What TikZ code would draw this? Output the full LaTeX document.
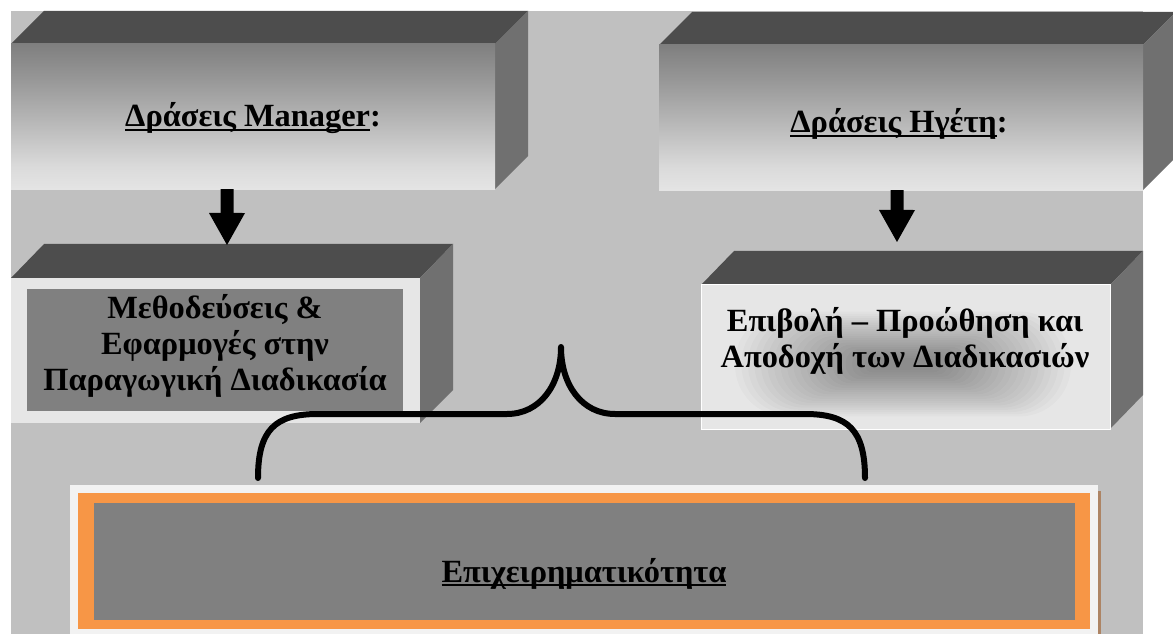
\documentclass[tikz,border=0pt]{standalone}
\usepackage{fontspec}
\setmainfont{Liberation Serif}
\usetikzlibrary{arrows.meta}
\definecolor{bgc}{HTML}{C0C0C0}
\definecolor{topc}{HTML}{4D4D4D}
\definecolor{sidec}{HTML}{707070}
\definecolor{facel}{HTML}{E6E6E6}
\definecolor{innerc}{HTML}{808080}
\definecolor{framec}{HTML}{F2F2F2}
\definecolor{orangec}{HTML}{F79646}
\definecolor{brownc}{HTML}{AD8464}
\definecolor{fbot}{HTML}{E4E4E4}
\definecolor{fb2}{HTML}{DADADA}
\definecolor{fmid}{HTML}{B8B8B8}
\definecolor{fb3}{HTML}{999999}
\definecolor{ftop}{HTML}{7F7F7F}
\pgfdeclareverticalshading{facegrad}{100bp}{color(0bp)=(fbot); color(25bp)=(fbot); color(33bp)=(fb2); color(48bp)=(fmid); color(62bp)=(fb3); color(75bp)=(ftop); color(100bp)=(ftop)}
\newsavebox\ulbox
\newcommand\ulx[1]{\sbox\ulbox{#1}\rlap{\rule[-4.5pt]{\wd\ulbox}{2.6pt}}\usebox\ulbox}
\tikzset{
  topface/.style={fill=topc},
  sideface/.style={fill=sidec},
  facebox/.style={inner sep=0pt, outer sep=0pt, anchor=north west},
  gradface/.style={facebox, shading=facegrad},
  lightface/.style={facebox, fill=facel},
  innerbox/.style={facebox, fill=innerc},
  label/.style={inner sep=0pt, text=black},
  bigarrow/.style={line width=13bp, -{Triangle[width=36bp,length=32bp,line width=0pt]}},
  bracepath/.style={line width=6bp, line cap=round, line join=round},
  blurlayer/.style={fill=black, fill opacity=0.02}
}
\begin{document}
\begin{tikzpicture}[x=1bp, y=-1bp, font=\fontsize{32.5}{36.5}\selectfont\bfseries]
\useasboundingbox (0,0) rectangle (1173,634);
\fill[white] (0,0) rectangle (1173,634);
\fill[bgc] (11,11) rectangle (1143,634);

% Box A: Manager
\fill[topface] (11,44) -- (44,11) -- (528,11) -- (495,44) -- cycle;
\fill[sideface] (495,44) -- (528,11) -- (528,156) -- (495,189) -- cycle;
\node[gradface, minimum width=484bp, minimum height=145bp] (A) at (11,44) {};
\node[label, anchor=base] (At) at (253,127) {\ulx{Δράσεις Manager}:};

% Box B
\fill[topface] (11,278) -- (44,244) -- (453,244) -- (420,278) -- cycle;
\fill[sideface] (420,278) -- (453,244) -- (453,390) -- (420,423) -- cycle;
\node[lightface, minimum width=409bp, minimum height=145bp] (Bf) at (11,278) {};
\node[innerbox, minimum width=376bp, minimum height=122bp] (B) at (27,289) {};
\node[label, align=center] (Bt) at (215,346) {Μεθοδεύσεις \&\\Εφαρμογές στην\\Παραγωγική Διαδικασία};

% Box C: Leader
\fill[topface] (659,45) -- (692,12) -- (1176,12) -- (1143,45) -- cycle;
\fill[sideface] (1143,45) -- (1176,12) -- (1176,157) -- (1143,190) -- cycle;
\node[gradface, minimum width=484bp, minimum height=145bp] (C) at (659,45) {};
\node[label, anchor=base] (Ct) at (899,133) {\ulx{Δράσεις Ηγέτη}:};

% Box D
\fill[topface] (701,285) -- (734,251) -- (1143,251) -- (1110,285) -- cycle;
\fill[sideface] (1110,285) -- (1143,251) -- (1143,395) -- (1110,429) -- cycle;
\node[lightface, minimum width=409bp, minimum height=144bp] (D) at (701,285) {};
\begin{scope}
  \clip (D.north west) rectangle (D.south east);
  \foreach \i in {1,...,22}
    \fill[blurlayer, rounded corners=2.2*\i+3] (903-6.5*\i-25,364-2.2*\i-4) rectangle (903+6.5*\i+25,364+2.2*\i+4);
\end{scope}
\draw[white, line width=1bp] (D.north west) rectangle (D.south east);
\node[label, align=center] (Dt) at (905,341) {Επιβολή – Προώθηση και\\Αποδοχή των Διαδικασιών};

% Box E
\fill[brownc] (1098,491) rectangle (1101,634);
\node[facebox, fill=framec, minimum width=1028bp, minimum height=152bp] (Eo) at (70,485) {};
\node[facebox, fill=orangec, minimum width=1012bp, minimum height=136bp] (Em) at (78,493) {};
\node[innerbox, minimum width=981bp, minimum height=117bp] (E) at (94,503) {};
\node[label, anchor=base] (Et) at (584,582) {\ulx{Επιχειρηματικότητα}};

% Arrows
\coordinate (Bin) at (227,245);
\draw[bigarrow] ([xshift=-26bp]A.south) -- (Bin);
\coordinate (Din) at (897,242);
\draw[bigarrow] ([xshift=-4bp]C.south) -- (Din);

% Brace
\draw[bracepath] (258,478) .. controls (258,430) and (275,414) .. (318,414) -- (507,414) .. controls (540,414) and (561,385) .. (561,347) .. controls (561,385) and (582,414) .. (615,414) -- (805,414) .. controls (848,414) and (865,430) .. (865,478);
\end{tikzpicture}
\end{document}
